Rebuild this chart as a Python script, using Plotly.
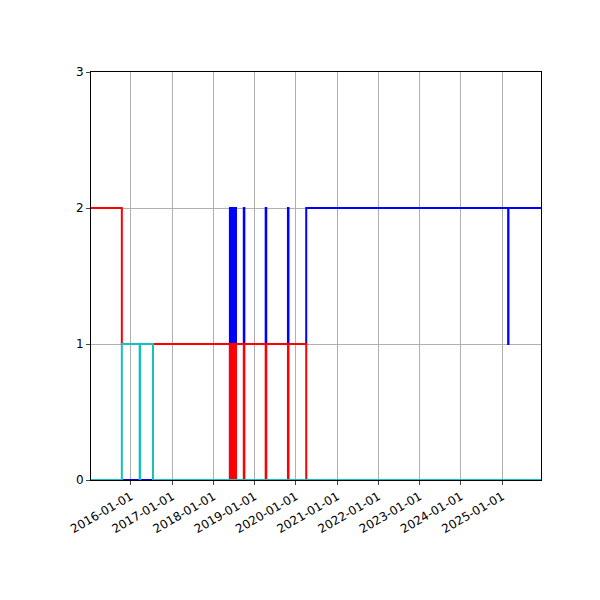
import plotly.graph_objects as go

# step series (value holds until next date)
red_dates = ["2015-01-12", "2015-10-12", "2018-05-26", "2018-06-02", "2018-06-10", "2018-06-18", "2018-06-26",
             "2018-07-04", "2018-07-12", "2018-07-19", "2018-09-26", "2018-10-01", "2019-04-08", "2019-04-13",
             "2019-10-22", "2019-10-27", "2020-04-01", "2025-12-10"]
red_vals = [2, 1, 0, 1, 0, 1, 0, 1, 0, 1, 0, 1, 0, 1, 0, 1, 0, 0]

blue_dates = ["2015-01-12", "2018-05-26", "2018-06-02", "2018-06-10", "2018-06-18", "2018-06-26",
              "2018-07-04", "2018-07-12", "2018-07-19", "2018-09-26", "2018-10-01", "2019-04-08", "2019-04-13",
              "2019-10-22", "2019-10-27", "2020-04-01", "2025-02-22", "2025-02-25", "2025-12-10"]
blue_vals = [0, 2, 1, 2, 1, 2, 1, 2, 1, 2, 1, 2, 1, 2, 1, 2, 1, 2, 2]

cyan_dates = ["2015-01-12", "2015-10-12", "2016-03-18", "2016-03-22", "2016-07-14", "2025-12-10"]
cyan_vals = [0, 1, 0, 1, 0, 0]

fig = go.Figure()
for d, v, c in [(blue_dates, blue_vals, "blue"), (red_dates, red_vals, "red"), (cyan_dates, cyan_vals, "#17bfbf")]:
    fig.add_trace(go.Scatter(x=d, y=v, mode="lines", line=dict(color=c, width=2, shape="hv"), showlegend=False))

fig.update_layout(
    width=600, height=600, plot_bgcolor="white", paper_bgcolor="white",
    margin=dict(l=83, r=67, t=64, b=128),
    font=dict(family="DejaVu Sans", size=12, color="black"),
)
fig.update_xaxes(range=["2015-01-12", "2025-12-10"], tick0="2016-01-01", dtick="M12", tickformat="%Y-%m-%d",
                 tickangle=-30, showgrid=True, gridcolor="#b0b0b0", showline=True, linecolor="black",
                 mirror=True, ticks="outside", ticklen=4)
fig.update_yaxes(range=[0, 3], dtick=1, showgrid=True, gridcolor="#b0b0b0", showline=True, linecolor="black",
                 mirror=True, ticks="outside", ticklen=4, zeroline=False)
fig.write_html("out.html")
